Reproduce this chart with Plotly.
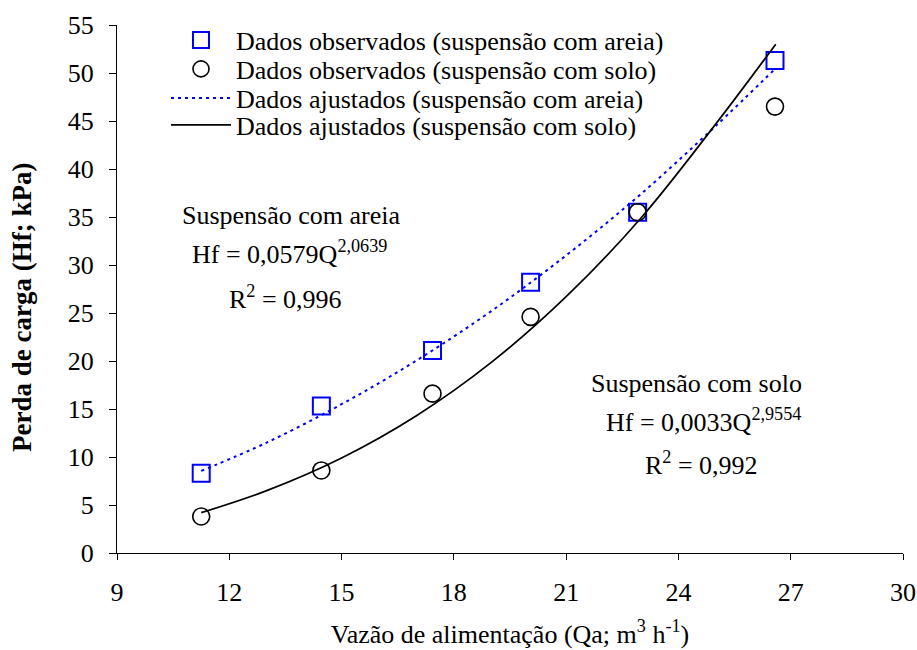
import plotly.graph_objects as go

# Observed data
q_obs = [11.25, 14.46, 17.43, 20.05, 22.91, 26.58]
hf_areia = [8.3, 15.3, 21.1, 28.2, 35.5, 51.3]
hf_solo = [3.8, 8.6, 16.6, 24.6, 35.5, 46.5]

# Fitted curves
q_fit = [11.25, 13, 15, 17, 19, 21, 23, 25, 26.6]
fit_areia = [8.55, 11.5, 15.5, 20.05, 25.2, 31.0, 37.4, 44.5, 50.5]
fit_solo = [4.2, 6.5, 9.9, 14.3, 19.85, 26.7, 34.9, 44.7, 53.0]

x_ticks = [9, 12, 15, 18, 21, 24, 27, 30]
y_ticks = [0, 5, 10, 15, 20, 25, 30, 35, 40, 45, 50, 55]

FONT = "Liberation Serif"
FS = 26

W, H = 917, 650
L, R, T, B = 117, 14, 25, 97
PW, PH = W - L - R, H - T - B


def px2paper(sx, sy):
    """screen pixel -> paper fraction"""
    return (sx - L) / PW, 1 - (sy - T) / PH


fig = go.Figure()
fig.add_trace(go.Scatter(x=q_obs, y=hf_areia, mode="markers", legend="legend",
                         name="Dados observados (suspensão com areia)",
                         marker=dict(symbol="square-open", size=17, color="#0000FF",
                                     line=dict(width=2, color="#0000FF"))))
fig.add_trace(go.Scatter(x=q_obs, y=hf_solo, mode="markers", legend="legend2",
                         name="Dados observados (suspensão com solo)",
                         marker=dict(symbol="circle-open", size=17, color="black",
                                     line=dict(width=1.6, color="black"))))
fig.add_trace(go.Scatter(x=q_fit, y=fit_areia, mode="lines", line_shape="spline",
                         legend="legend3",
                         name="Dados ajustados (suspensão com areia)",
                         line=dict(color="#0000FF", width=2, dash="3px,4px")))
fig.add_trace(go.Scatter(x=q_fit, y=fit_solo, mode="lines", line_shape="spline",
                         legend="legend4",
                         name="Dados ajustados (suspensão com solo)",
                         line=dict(color="black", width=1.7)))

ann_font = dict(family=FONT, size=FS, color="black")
ann_spec = [
    (291, 215, "Suspensão com areia"),
    (289, 252, "Hf = 0,0579Q<sup>2,0639</sup>"),
    (285, 297, "R<sup>2</sup> = 0,996"),
    (696, 383, "Suspensão com solo"),
    (703, 420, "Hf = 0,0033Q<sup>2,9554</sup>"),
    (701, 463, "R<sup>2</sup> = 0,992"),
]
annotations = []
for sx, sy, txt in ann_spec:
    ax, ay = px2paper(sx, sy)
    annotations.append(dict(x=ax, y=ay, text=txt, xref="paper", yref="paper",
                            showarrow=False, font=ann_font,
                            xanchor="center", yanchor="middle"))

# y-axis title (bold, rotated), placed where the reference has it
tx, ty = px2paper(22, 308)
annotations.append(dict(x=tx, y=ty, xref="paper", yref="paper", showarrow=False,
                        text="<b>Perda de carga (Hf; kPa)</b>", textangle=-90,
                        font=dict(family=FONT, size=27, color="black"),
                        xanchor="center", yanchor="middle"))


def legend_at(sy):
    lx, ly = px2paper(166, sy)
    return dict(x=lx, y=ly, xanchor="left", yanchor="middle",
                bgcolor="rgba(0,0,0,0)", borderwidth=0,
                font=dict(family=FONT, size=FS, color="black"),
                itemwidth=60, tracegroupgap=0)


fig.update_layout(
    width=W, height=H,
    margin=dict(l=L, r=R, t=T, b=B, autoexpand=False),
    paper_bgcolor="white", plot_bgcolor="white",
    font=dict(family=FONT, size=FS, color="black"),
    showlegend=True,
    legend=legend_at(40),
    legend2=legend_at(69),
    legend3=legend_at(98),
    legend4=legend_at(125),
    annotations=annotations,
)
fig.update_xaxes(range=[9, 30], tickvals=x_ticks,
                 showline=True, linecolor="black", linewidth=1,
                 ticks="outside", ticklen=6, tickcolor="black",
                 ticklabelstandoff=10,
                 showgrid=False, zeroline=False,
                 tickfont=dict(family=FONT, size=FS, color="black"),
                 title=dict(text="Vazão de alimentação (Qa; m<sup>3</sup> h<sup>-1</sup>)",
                            font=dict(family=FONT, size=FS, color="black"), standoff=18))
fig.update_yaxes(range=[0, 55], tickvals=y_ticks,
                 showline=True, linecolor="black", linewidth=1,
                 ticks="outside", ticklen=7, tickcolor="black",
                 ticklabelstandoff=10,
                 showgrid=False, zeroline=False,
                 tickfont=dict(family=FONT, size=FS, color="black"))

fig.write_html("out.html", config={"displayModeBar": False},
               post_script="document.body.style.margin='0px';")
